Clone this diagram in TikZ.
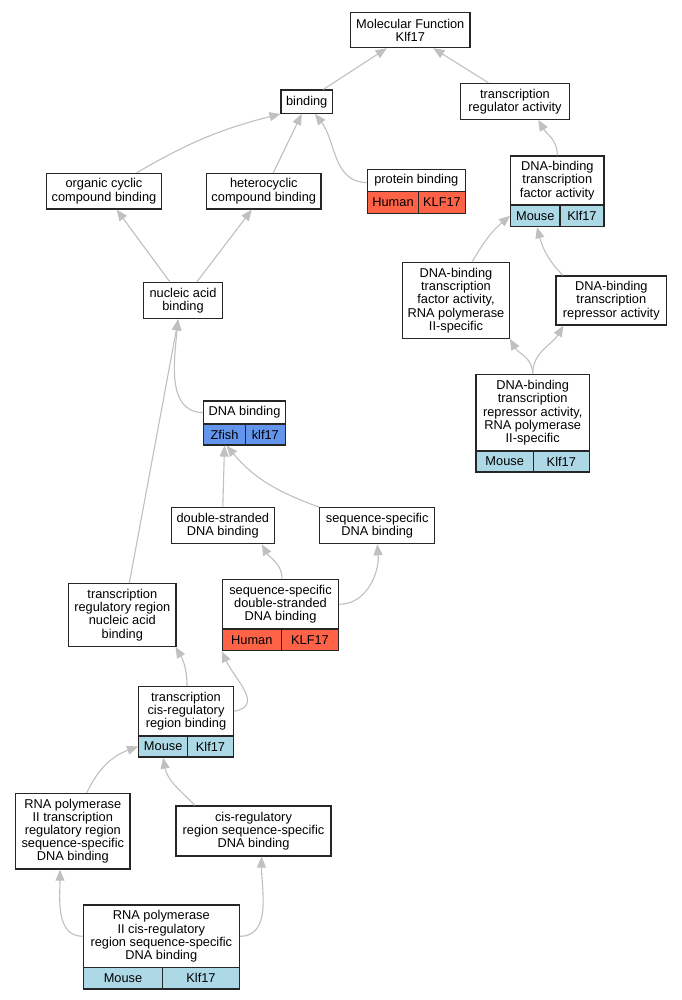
\documentclass[tikz,border=0pt]{standalone}
\usepackage{fontspec}
\setmainfont{Liberation Sans}
\usetikzlibrary{arrows.meta}
\definecolor{tomato}{HTML}{FF6347}
\definecolor{lightblue}{HTML}{ADD8E6}
\definecolor{cornflower}{HTML}{6495ED}
\definecolor{edgegray}{HTML}{C0C0C0}
\tikzset{
  term/.style={draw=black!85, line width=1.2pt, fill=white, align=center, inner sep=0pt,
    font=\fontsize{12.8}{13.2}\selectfont},
  sz/.style 2 args={minimum width=#1pt, minimum height=#2pt},
  human/.style={term, fill=tomato},
  mouse/.style={term, fill=lightblue},
  zfish/.style={term, fill=cornflower},
  isa/.style={draw=edgegray, line width=1.1pt, -{Triangle[length=11pt,width=9pt]}}
}
\begin{document}
\begin{tikzpicture}[x=1pt,y=-1pt]
            \useasboundingbox[fill=white] (0,0) rectangle (681,1000);
            % terms
            \node[term, sz={119.3}{35}] (mf) at (410.3,30.2) {Molecular Function\\Klf17};
            \node[term, sz={51.3}{23.3}] (bind) at (306.7,101.7) {binding};
            \node[term, sz={108.7}{36}] (tra) at (515,101.3) {transcription\\regulator activity};
            \node[term, sz={114.6}{35.7}] (occb) at (104,191.2) {organic cyclic\\compound binding};
            \node[term, sz={114.3}{35.7}] (hccb) at (263.8,191.2) {heterocyclic\\compound binding};
            \node[term, sz={98}{22.4}] (prot) at (416.3,180.5) {protein binding};
            \node[human, sz={51.4}{21.6}] (protH) at (393,202.5) {Human};
            \node[human, sz={46.6}{21.6}] (protK) at (442,202.5) {KLF17};
            \node[term, sz={93.3}{49}] (dbtf) at (557.3,180.5) {DNA-binding\\transcription\\factor activity};
            \node[mouse, sz={49.3}{21.7}] (dbtfM) at (535.3,215.8) {Mouse};
            \node[mouse, sz={44}{21.7}] (dbtfK) at (582,215.8) {Klf17};
            \node[term, sz={79.4}{36}] (nab) at (183,300.7) {nucleic acid\\binding};
            \node[term, sz={106.6}{75.6}] (dbtfii) at (456,300.5) {DNA-binding\\transcription\\factor activity,\\RNA polymerase\\II-specific};
            \node[term, sz={110.7}{49}] (rep) at (611.3,300.5) {DNA-binding\\transcription\\repressor activity};
            \node[term, sz={81.6}{23}] (dnab) at (244.5,412.5) {DNA binding};
            \node[zfish, sz={41.6}{21}] (dnabZ) at (224.5,434.5) {Zfish};
            \node[zfish, sz={40}{21}] (dnabK) at (265.3,434.5) {klf17};
            \node[term, sz={113.3}{76.3}] (repii) at (532.7,412.8) {DNA-binding\\transcription\\repressor activity,\\RNA polymerase\\II-specific};
            \node[mouse, sz={57.3}{21}] (repiiM) at (504.7,461.5) {Mouse};
            \node[mouse, sz={56}{21}] (repiiK) at (561.3,461.5) {Klf17};
            \node[term, sz={103}{36}] (dsdb) at (222.8,525.7) {double-stranded\\DNA binding};
            \node[term, sz={115}{36}] (ssdb) at (377.2,525.7) {sequence-specific\\DNA binding};
            \node[term, sz={107.3}{62.6}] (trrn) at (122.3,615) {transcription\\regulatory region\\nucleic acid\\binding};
            \node[term, sz={116.4}{49.3}] (ssds) at (280.5,604.3) {sequence-specific\\double-stranded\\DNA binding};
            \node[human, sz={59}{21.7}] (ssdsH) at (251.8,639.8) {Human};
            \node[human, sz={57.4}{21.7}] (ssdsK) at (310,639.8) {KLF17};
            \node[term, sz={94.6}{49.3}] (tcis) at (186,711.3) {transcription\\cis-regulatory\\region binding};
            \node[mouse, sz={49}{21}] (tcisM) at (163.2,746.5) {Mouse};
            \node[mouse, sz={45.6}{21}] (tcisK) at (210.5,746.5) {Klf17};
            \node[term, sz={114.3}{75.7}] (rpt) at (72.8,831.2) {RNA polymerase\\II transcription\\regulatory region\\sequence-specific\\DNA binding};
            \node[term, sz={155}{50}] (crb) at (253.5,831) {cis-regulatory\\region sequence-specific\\DNA binding};
            \node[term, sz={156}{62.7}] (rpc) at (161.3,936.3) {RNA polymerase\\II cis-regulatory\\region sequence-specific\\DNA binding};
            \node[mouse, sz={79.4}{21.3}] (rpcM) at (123,978.3) {Mouse};
            \node[mouse, sz={76.6}{21.3}] (rpcK) at (201,978.3) {Klf17};

            % is_a links
            \draw[isa] ([xshift=16.6pt]bind.north) -- ([xshift=-23.6pt]mf.south);
            \draw[isa] ([xshift=-26.7pt]tra.north) -- ([xshift=23pt]mf.south);
            \draw[isa] ([xshift=32.7pt]occb.north) to[bend left=8] (bind.south west);
            \draw[isa] ([xshift=9.5pt]hccb.north) -- ([xshift=-5pt]bind.south);
            \draw[isa] ([yshift=-2pt]prot.west) to[out=180,in=-52] ([xshift=8.3pt]bind.south);
            \draw[isa] (dbtf.north) to[out=90,in=-60] ([xshift=23.3pt]tra.south);
            \draw[isa] ([xshift=-13pt]nab.north) -- ([xshift=12.7pt]occb.south);
            \draw[isa] ([xshift=13.7pt]nab.north) -- ([xshift=-12pt]hccb.south);
            \draw[isa] (dnab.west) to[out=180,in=-95] ([xshift=-5pt]nab.south);
            \draw[isa] ([xshift=16pt]dbtfii.north) to[out=60,in=-140] (dbtfM.west);
            \draw[isa] ([xshift=-48.3pt]rep.north) to[out=135,in=-75] ([xshift=1.7pt]dbtfM.south);
            \draw[isa] (repii.north) to[out=90,in=-60] (dbtfii.south east);
            \draw[isa] (repii.north) to[out=90,in=-120] ([xshift=-48pt]rep.south);
            \draw[isa] ([xshift=7pt]trrn.north) -- ([xshift=-4.7pt]nab.south);
            \draw[isa] (dsdb.north) -- (dnabZ.south);
            \draw[isa] (ssdb.north west) to[out=160,in=-50] ([xshift=2pt]dnabZ.south);
            \draw[isa] ([xshift=1.5pt]ssds.north) to[out=90,in=-60] ([xshift=39pt]dsdb.south);
            \draw[isa] (ssds.east) to[out=0,in=-85] (ssdb.south);
            \draw[isa] ([xshift=1pt]tcis.north) to[out=90,in=-60] ([xshift=-1pt]trrn.south east);
            \draw[isa] (tcis.east) to[out=10,in=-65,looseness=1.3] (ssdsH.south west);
            \draw[isa] ([xshift=14pt]rpt.north) to[out=65,in=200] (tcisM.west);
            \draw[isa] ([xshift=-58.5pt]crb.north) to[out=135,in=-80] (tcisM.south);
            \draw[isa] (rpc.west) to[out=180,in=-90] ([xshift=-12.8pt]rpt.south);
            \draw[isa] (rpc.east) to[out=0,in=-90] ([xshift=8pt]crb.south);
        \end{tikzpicture}
\end{document}
